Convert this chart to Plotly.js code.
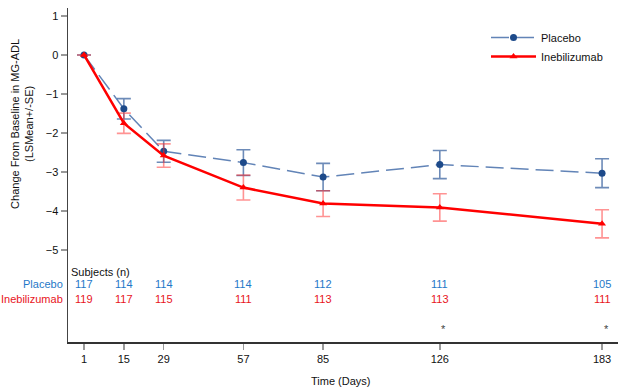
<!DOCTYPE html>
<html>
<head>
<meta charset="utf-8">
<script src="https://cdn.plot.ly/plotly-3.0.1.min.js"></script>
<style>html,body{margin:0;padding:0;background:#fff}#chart{width:624px;height:392px}</style>
</head>
<body>
<div id="chart"></div>
<script>
const days = [1, 15, 29, 57, 85, 126, 183];
const tickLabels = ['1', '15', '29', '57', '85', '126', '183'];
const placeboMean = [0, -1.38, -2.47, -2.76, -3.13, -2.81, -3.03];
const placeboSE = [0, 0.26, 0.28, 0.33, 0.35, 0.36, 0.37];
const inebMean = [0, -1.75, -2.58, -3.40, -3.81, -3.91, -4.33];
const inebSE = [0, 0.26, 0.30, 0.32, 0.33, 0.35, 0.36];
const placeboN = [117, 114, 114, 114, 112, 111, 105];
const inebN = [119, 117, 115, 111, 113, 113, 111];
const starDays = [126, 183];

const FONT = 'Liberation Sans, Arial, sans-serif';
const placeboTxt = '#1f78c8';
const inebTxt = '#e8141c';

const traces = [
  {
    x: days, y: placeboMean, name: 'Placebo', type: 'scatter', mode: 'lines+markers',
    line: {color: 'rgba(70,110,170,0.85)', width: 1.5, dash: '18px,7px'},
    marker: {color: '#1d4a8a', size: 7, symbol: 'circle'},
    error_y: {type: 'data', array: placeboSE, visible: true, color: 'rgba(60,100,160,0.75)', thickness: 1.6, width: 7}
  },
  {
    x: days, y: inebMean, name: 'Inebilizumab', type: 'scatter', mode: 'lines+markers',
    line: {color: '#ff0000', width: 2.5},
    marker: {color: '#ff0000', size: 7, symbol: 'triangle-up'},
    error_y: {type: 'data', array: inebSE, visible: true, color: 'rgba(255,40,40,0.5)', thickness: 1.6, width: 7}
  }
];

const ann = [];
ann.push({xref: 'paper', yref: 'y', x: 0, y: -5.56, xanchor: 'left', yanchor: 'middle', xshift: 1,
  text: 'Subjects (n)', showarrow: false, font: {family: FONT, size: 11, color: '#111'}});
ann.push({xref: 'paper', yref: 'y', x: 0, y: -5.87, xanchor: 'right', yanchor: 'middle', xshift: -3,
  text: 'Placebo', showarrow: false, font: {family: FONT, size: 11, color: placeboTxt}});
ann.push({xref: 'paper', yref: 'y', x: 0, y: -6.26, xanchor: 'right', yanchor: 'middle', xshift: -3,
  text: 'Inebilizumab', showarrow: false, font: {family: FONT, size: 11, color: inebTxt}});
days.forEach((d, i) => {
  ann.push({xref: 'x', yref: 'y', x: d, y: -5.87, xanchor: 'center', yanchor: 'middle',
    text: String(placeboN[i]), showarrow: false, font: {family: FONT, size: 11, color: placeboTxt}});
  ann.push({xref: 'x', yref: 'y', x: d, y: -6.26, xanchor: 'center', yanchor: 'middle',
    text: String(inebN[i]), showarrow: false, font: {family: FONT, size: 11, color: inebTxt}});
});
starDays.forEach(d => {
  ann.push({xref: 'x', yref: 'y', x: d, y: -7.02, xanchor: 'center', yanchor: 'middle', xshift: 4,
    text: '*', showarrow: false, font: {family: FONT, size: 11, color: '#444'}});
});
ann.push({xref: 'paper', yref: 'paper', x: 0, y: 0.653, xanchor: 'center', yanchor: 'middle', xshift: -46,
  textangle: -90, text: 'Change From Baseline in MG-ADL<br>(LSMean+/-SE)', showarrow: false,
  font: {family: FONT, size: 11, color: '#111'}});
ann.push({xref: 'paper', yref: 'paper', x: 0.495, y: 0, xanchor: 'center', yanchor: 'middle', yshift: -39,
  text: 'Time (Days)', showarrow: false, font: {family: FONT, size: 11, color: '#111'}});

const layout = {
  width: 624, height: 392,
  margin: {l: 68, r: 6, t: 8, b: 50},
  paper_bgcolor: '#fff', plot_bgcolor: '#fff',
  font: {family: FONT, size: 11, color: '#111'},
  showlegend: true,
  legend: {x: 0.76, y: 0.955, xanchor: 'left', yanchor: 'top', bgcolor: 'rgba(0,0,0,0)',
    font: {family: FONT, size: 11, color: '#111'}, itemwidth: 45, tracegroupgap: 4},
  xaxis: {range: [-4.62, 188.6], tickvals: days, ticktext: tickLabels, showgrid: false, zeroline: false,
    showline: true, linecolor: '#333', linewidth: 1.5, ticks: 'outside', ticklen: 6, tickwidth: 1.5,
    tickcolor: '#999', tickfont: {family: FONT, size: 11, color: '#111'}},
  yaxis: {range: [-7.36, 1.205], tickvals: [-5, -4, -3, -2, -1, 0, 1], showgrid: false, zeroline: false,
    showline: true, linecolor: '#444', linewidth: 1.5, ticks: 'outside', ticklen: 6, tickwidth: 1.5,
    tickcolor: '#999', tickfont: {family: FONT, size: 11, color: '#111'}},
  annotations: ann
};

Plotly.newPlot('chart', traces, layout, {displayModeBar: false, staticPlot: true});
</script>
</body>
</html>
